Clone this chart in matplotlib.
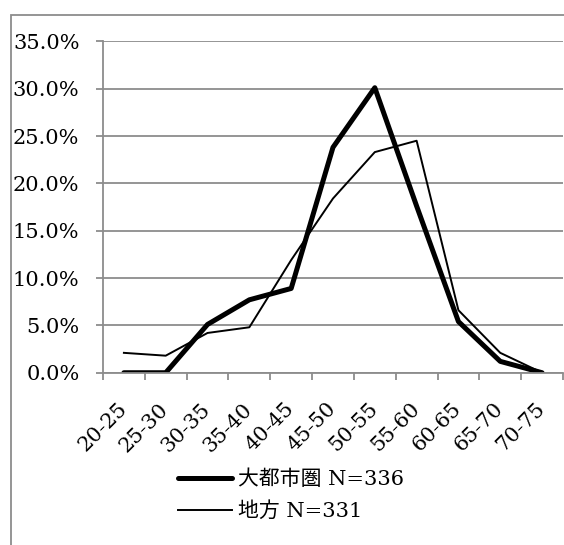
import matplotlib
matplotlib.use('Agg')
import matplotlib.pyplot as plt
import matplotlib.patches as mpatches
from matplotlib.ticker import FuncFormatter, MultipleLocator

plt.rcParams['font.family'] = ['DejaVu Serif', 'Noto Sans CJK JP']
plt.rcParams['font.size'] = 15

# age groups and share of respondents (%)
ages = ['20-25', '25-30', '30-35', '35-40', '40-45', '45-50',
        '50-55', '55-60', '60-65', '65-70', '70-75']
metro = [0.0, 0.0, 5.1, 7.7, 8.9, 23.8, 30.1, 17.6, 5.4, 1.2, 0.0]
local = [2.1, 1.8, 4.2, 4.8, 11.9, 18.4, 23.3, 24.5, 6.6, 2.1, 0.0]
labels = ['大都市圏 N=336', '地方 N=331']

grid_col = '#8c8c8c'

fig = plt.figure(figsize=(5.64, 5.45), dpi=100)
ax = fig.add_axes([0.1826, 0.3161, 0.8156, 0.6081])

x = list(range(len(ages)))
ax.plot(x, metro, color='black', lw=3.6, solid_capstyle='round',
        solid_joinstyle='round', label=labels[0])
ax.plot(x, local, color='black', lw=1.4, label=labels[1])

ax.set_xlim(-0.5, len(ages) - 0.5)
ax.set_ylim(0, 35)
ax.yaxis.set_major_locator(MultipleLocator(5))
ax.yaxis.set_major_formatter(FuncFormatter(lambda v, p: '%.1f%%' % v))
ax.grid(axis='y', color=grid_col, lw=1.3)
ax.set_axisbelow(True)

# category ticks sit between groups
ax.set_xticks([i - 0.5 for i in range(len(ages) + 1)])
ax.set_xticklabels([])
ax.set_xticks(x, minor=True)
ax.set_xticklabels(ages, minor=True, rotation=45, ha='right', va='center',
                   rotation_mode='anchor')
ax.tick_params(axis='x', which='minor', length=0, pad=24)
ax.tick_params(axis='x', which='major', length=5, color=grid_col, width=1.3)
ax.tick_params(axis='y', length=5, color=grid_col, width=1.3, pad=12)
for lab in ax.get_yticklabels():
    lab.set_horizontalalignment('right')

for s in ['top', 'right']:
    ax.spines[s].set_visible(False)
for s in ['left', 'bottom']:
    ax.spines[s].set_color(grid_col)
    ax.spines[s].set_linewidth(1.3)

fig.legend(loc='upper left', bbox_to_anchor=(178 / 564, 0.1385), frameon=False,
           borderpad=0, borderaxespad=0, handlelength=2.6, handletextpad=0.3,
           labelspacing=0.6)

# outer chart border (runs off the right and bottom edges)
frame = mpatches.Rectangle((10.7 / 564, -0.2), 1.2, 0.2 + (545 - 15) / 545,
                           transform=fig.transFigure, fill=False,
                           edgecolor=grid_col, lw=1.3)
fig.patches.append(frame)

fig.savefig('out.png', dpi=100)
